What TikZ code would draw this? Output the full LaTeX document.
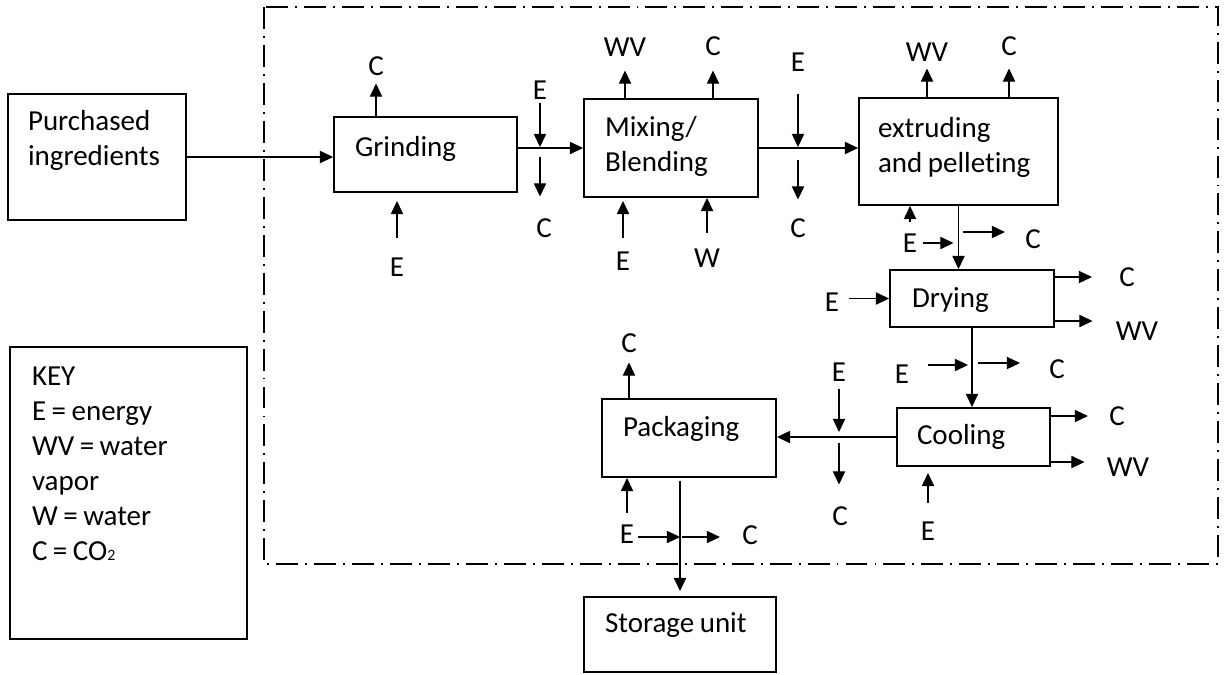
\documentclass[tikz,border=0pt]{standalone}
\usepackage{fontspec}
\setmainfont{Carlito}[Ligatures=NoCommon]
\usetikzlibrary{arrows.meta,calc}

\begin{document}
\begin{tikzpicture}[x=0.02cm,y=-0.02cm,
 font=\fontsize{16.5pt}{7mm}\selectfont,
 box/.style={draw,line width=1.1pt,inner sep=0pt,align=left,text height=3.66mm,
 execute at begin node={\spaceskip=0.19em\relax}},
 lbl/.style={inner sep=0pt,text height=3.66mm,text depth=0pt},
 arr/.style={-{Triangle[length=7.5pt,width=7pt]},line width=0.6pt},
 frame/.style={line width=1.1pt,dash pattern=on 12.5pt off 4pt on 1.1pt off 4pt}]
\useasboundingbox (0,0) rectangle (1226,674);
\draw[frame] (264,7) rectangle (1218,564);
% process boxes
\node[box,minimum width=35.6mm,minimum height=25.2mm,text width=27.6mm,text depth=14.4mm] (purch) at (97,157) {Purchased\\ingredients};
\node[box,minimum width=36.6mm,minimum height=15mm,text width=28.2mm,text depth=3mm] (grind) at (425.5,154.5) {Grinding};
\node[box,minimum width=34.8mm,minimum height=19.6mm,text width=26.4mm,text depth=8.2mm] (mix) at (671,148) {Mixing/\\Blending};
\node[box,minimum width=39.8mm,minimum height=21.4mm,text width=32.2mm,text depth=9.4mm] (extr) at (958.5,151.5) {extruding\\and pellet\kern0pt ing};
\node[box,minimum width=32.8mm,minimum height=11.4mm,text width=24mm,text depth=0.2mm] (dry) at (972,298.5) {Drying};
\node[box,minimum width=30.6mm,minimum height=11.6mm,text width=22.6mm,text depth=0.8mm] (cool) at (973.5,437) {Cooling};
\node[box,minimum width=34.8mm,minimum height=15.6mm,text width=26.4mm,text depth=4.2mm] (pack) at (689,438) {Packaging};
\node[box,minimum width=38.4mm,minimum height=15mm,text width=30mm,text depth=4.6mm] (stor) at (680,634.5) {Storage unit};
\node[box,minimum width=47.4mm,minimum height=58.4mm,text width=38.6mm,text depth=46.8mm] (key) at (128.5,493) {KEY\\E = energy\\WV = water\\vapor\\W = water\\C = CO{\fontsize{9pt}{9pt}\selectfont 2}};
% main flow
\draw[arr] (purch.east) -- (purch.east -| grind.west);
\draw[arr] (grind.east |- mix.west) -- (mix.west);
\draw[arr] (mix.east) -- (mix.east -| extr.west);
\draw[arr] (extr.south) -- (extr.south |- dry.north);
\draw[arr] (dry.south) -- (dry.south |- cool.north);
\draw[arr] (cool.west) -- (cool.west -| pack.east);
\draw[arr,shorten <=0.6mm,shorten >=1mm] (pack.south -| stor.north) -- (stor.north);
% grinding
\node[lbl] (gC) at (376,66) {C};
\node[lbl] (gE) at (397,267) {E};
\draw[arr,shorten >=1.6mm] (gC |- grind.north) -- (gC);
\draw[arr,shorten <=4mm,shorten >=1.6mm] (gE) -- (gE |- grind.south);
% between grinding and mixing
\node[lbl] (eGM) at (540,90) {E};
\node[lbl] (cGM) at (544,228) {C};
\draw[arr,shorten <=0.7mm,shorten >=0.2mm] (eGM) -- (eGM |- mix.west);
\draw[arr,shorten <=1.8mm,shorten >=4.4mm] (eGM |- mix.west) -- (eGM |- cGM.north);
% mixing
\node[lbl] (mWV) at (625,47) {WV};
\node[lbl] (mC) at (713,46) {C};
\node[lbl] (mE) at (623,261) {E};
\node[lbl] (mW) at (707,258) {W};
\draw[arr,shorten >=2.8mm] (mWV |- mix.north) -- (mWV);
\draw[arr,shorten >=3mm] (mC |- mix.north) -- (mC);
\draw[arr,shorten <=2.8mm,shorten >=0.6mm] (mE) -- (mE |- mix.south);
\draw[arr,shorten <=3.2mm] (mW) -- (mW |- mix.south);
% between mixing and extruding
\node[lbl] (eME) at (798,62) {E};
\node[lbl] (cME) at (798,228) {C};
\draw[arr,shorten <=4.4mm,shorten >=0.2mm] (eME) -- (eME |- mix.east);
\draw[arr,shorten <=2.4mm,shorten >=3.8mm] (eME |- mix.east) -- (cME);
% extruding
\node[lbl] (xWV) at (927,52) {WV};
\node[lbl] (xC) at (1009,46) {C};
\node[lbl] (xE) at (910,243) {E};
\node[lbl] (xCo) at (1033,239) {C};
\draw[arr,shorten >=1.4mm] (xWV |- extr.north) -- (xWV);
\draw[arr,shorten >=2.6mm] (xC |- extr.north) -- (xC);
\draw[arr,shorten <=2.4mm] (xE) -- (xE |- extr.south);
\draw[arr,shorten <=1.2mm,shorten >=1mm] (xE) -- (xE -| extr.south);
\draw[arr,shorten <=0.8mm,shorten >=4mm] ($(xCo -| extr.south)+(0,-7)$) -- ($(xCo.west)+(0,-7)$);
% drying
\node[lbl] (dE) at (832,302) {E};
\node[lbl] (dC) at (1127,277) {C};
\node[lbl] (dWV) at (1137,331) {WV};
\draw[arr,shorten <=3.4mm] (dE |- dry.west) -- (dry.west);
\draw[arr,shorten >=5.4mm] (dC -| dry.east) -- (dC);
\draw[arr,shorten >=4.6mm] ($(dWV -| dry.east)+(0,-10)$) -- ($(dWV.west)+(0,-10)$);
% between drying and cooling
\node[lbl] (dcE) at (902,374) {E};
\node[lbl] (dcC) at (1057,369) {C};
\draw[arr,shorten <=3.8mm,shorten >=0.8mm] ($(dcE.east)+(0,-9)$) -- ($(dcE -| dry.south)+(0,-9)$);
\draw[arr,shorten <=1.2mm,shorten >=5.8mm] ($(dcC -| dry.south)+(0,-6)$) -- ($(dcC.west)+(0,-6)$);
% cooling
\node[lbl] (cC) at (1117,416) {C};
\node[lbl] (cWV) at (1128,467) {WV};
\node[lbl] (cE) at (928,531) {E};
\draw[arr,shorten >=4.2mm] (cC -| cool.east) -- (cC);
\draw[arr,shorten >=4.4mm] ($(cWV -| cool.east)+(0,-5)$) -- ($(cWV.west)+(0,-5)$);
\draw[arr,shorten <=3.8mm,shorten >=1.2mm] (cE) -- (cE |- cool.south);
% between cooling and packaging
\node[lbl] (eCP) at (839,372) {E};
\node[lbl] (cCP) at (840,516) {C};
\draw[arr,shorten <=1.4mm,shorten >=1mm] (eCP) -- (eCP |- cool.west);
\draw[arr,shorten <=1.2mm,shorten >=4.4mm] (eCP |- cool.west) -- (eCP |- cCP.north);
% packaging
\node[lbl] (pC) at (629,343) {C};
\node[lbl] (pE) at (627,534) {E};
\node[lbl] (pCo) at (750,535) {C};
\draw[arr,shorten >=2mm] (pC |- pack.north) -- (pC);
\draw[arr,shorten <=2.4mm] (pE) -- (pE |- pack.south);
\draw[arr,shorten <=0.8mm] ($(pE.east)+(0,3)$) -- ($(pE -| stor.north)+(0,3)$);
\draw[arr,shorten <=0.4mm,shorten >=4.4mm] ($(pE -| stor.north)+(0,3)$) -- ($(pCo.west)+(0,2)$);
\end{tikzpicture}
\end{document}
